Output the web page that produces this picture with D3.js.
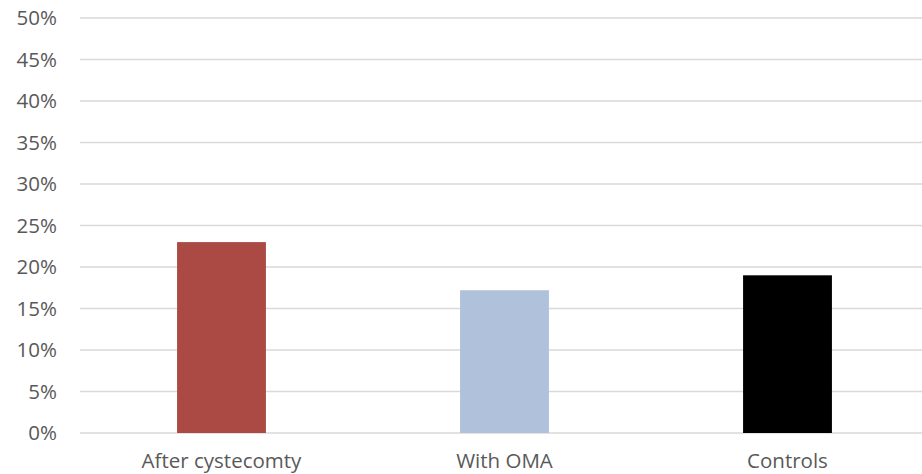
<!DOCTYPE html>
<html>
<head>
<meta charset="utf-8">
<script src="https://cdn.jsdelivr.net/npm/d3@7"></script>
<style>
  html, body { margin: 0; padding: 0; background: #fff; }
  svg { display: block; }
  .tick text { font-family: "Open Sans", Lato, sans-serif; fill: #595959; }
</style>
</head>
<body>
<svg id="chart" width="922" height="474"></svg>
<script>
// Share of patients in each group
const categories = ["After cystecomty", "With OMA", "Controls"];
const values = [0.23, 0.172, 0.19];
const barColors = ["#AB4945", "#B0C1DC", "#000000"];
const yTicks = [0, 0.05, 0.10, 0.15, 0.20, 0.25, 0.30, 0.35, 0.40, 0.45, 0.50];

const svg = d3.select("#chart");
const plot = { left: 80, right: 929, top: 18, bottom: 433 };

const x = d3.scaleBand()
  .domain(categories)
  .range([plot.left, plot.right])
  .paddingInner(0.686)
  .paddingOuter(0.343);

const y = d3.scaleLinear()
  .domain([0, 0.5])
  .range([plot.bottom, plot.top]);

// Horizontal gridlines
svg.append("g")
  .selectAll("line")
  .data(yTicks)
  .join("line")
  .attr("x1", plot.left)
  .attr("x2", 922)
  .attr("y1", d => y(d))
  .attr("y2", d => y(d))
  .attr("stroke", "#d9d9d9")
  .attr("stroke-width", 1.3);

// Y axis labels
const yAxis = svg.append("g")
  .attr("transform", `translate(${plot.left},0)`)
  .call(d3.axisLeft(y).tickValues(yTicks).tickFormat(d3.format(".0%")).tickSize(0).tickPadding(23));
yAxis.select(".domain").remove();
yAxis.selectAll("text").attr("font-size", 20.5);

// Bars
svg.append("g")
  .selectAll("rect")
  .data(categories)
  .join("rect")
  .attr("x", d => x(d))
  .attr("width", x.bandwidth())
  .attr("y", (d, i) => y(values[i]))
  .attr("height", (d, i) => y(0) - y(values[i]))
  .attr("fill", (d, i) => barColors[i]);

// Category labels
const xAxis = svg.append("g")
  .attr("transform", `translate(0,${plot.bottom})`)
  .call(d3.axisBottom(x).tickSize(0));
xAxis.select(".domain").remove();
xAxis.selectAll("text")
  .attr("font-size", 20.5)
  .attr("y", 35)
  .attr("dy", 0);
</script>
</body>
</html>
